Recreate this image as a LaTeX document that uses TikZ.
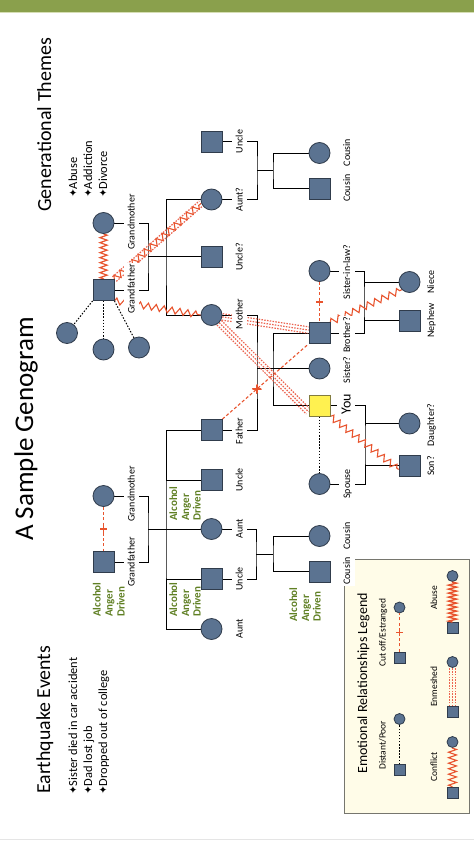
\documentclass[tikz,border=0pt]{standalone}
\usepackage{fontspec}
\setmainfont{Carlito}
\newfontfamily\symfont{DejaVu Sans}
\usetikzlibrary{decorations.pathmorphing,calc}
\pgfdeclarelayer{paper}
\pgfdeclarelayer{tree}
\pgfdeclarelayer{rel}
\pgfsetlayers{paper,tree,rel,main}
\definecolor{nodefill}{RGB}{91,115,145}
\definecolor{nodedraw}{RGB}{48,60,76}
\definecolor{relred}{RGB}{232,84,46}
\definecolor{enmred}{RGB}{236,100,80}
\definecolor{bargreen}{RGB}{138,160,76}
\definecolor{barlight}{RGB}{214,222,180}
\definecolor{txtgreen}{RGB}{96,128,36}
\definecolor{youyellow}{RGB}{255,241,80}
\definecolor{youdraw}{RGB}{130,124,64}
\definecolor{legendfill}{RGB}{255,252,232}
\definecolor{legenddraw}{RGB}{118,118,110}
\newcommand{\myfs}[1]{\fontsize{#1}{#1}\selectfont}
\newcommand{\bul}{{\symfont\myfs{10.5}\raisebox{0.2pt}{✦}}}
\newcommand{\enmesh}[3][3.2pt]{%
  \draw[enm] ($(#2)!#1!90:(#3)$) -- ($(#3)!#1!-90:(#2)$);
  \draw[enm] (#2) -- (#3);
  \draw[enm] ($(#2)!#1!-90:(#3)$) -- ($(#3)!#1!90:(#2)$);}
\begin{document}
\begin{tikzpicture}[x=1pt,y=-1pt,
  person/.style={draw=nodedraw,fill=nodefill,line width=0.8pt,inner sep=0pt,minimum size=21pt},
  male/.style={person,rectangle},
  female/.style={person,circle},
  youbox/.style={person,rectangle,fill=youyellow,draw=youdraw},
  lmale/.style={male,minimum size=11pt},
  lfemale/.style={female,minimum size=11pt},
  tree/.style={black,line width=0.9pt},
  lab/.style={rotate=90,fill=white,inner xsep=1pt,inner ysep=4pt,text height=6.8pt,text depth=0.5pt,font=\myfs{10}},
  txt/.style={rotate=90,inner sep=0pt,anchor=base west},
  grtxt/.style={txt,text=txtgreen,font=\bfseries\myfs{11}},
  conflict/.style={relred,line width=1.1pt,decorate,decoration={zigzag,segment length=8pt,amplitude=3.2pt}},
  abuse/.style={relred,line width=1.2pt,decorate,decoration={zigzag,segment length=5pt,amplitude=3.5pt}},
  legconf/.style={relred,line width=1.1pt,decorate,decoration={zigzag,segment length=5.5pt,amplitude=4pt}},
  legabuse/.style={relred,line width=1.4pt,decorate,decoration={zigzag,segment length=4pt,amplitude=4pt}},
  enm/.style={enmred,line width=1.2pt,dash pattern=on 1.5pt off 1.3pt},
  cutoff/.style={relred,line width=1.1pt,dash pattern=on 3pt off 2.2pt},
  cutmark/.style={sloped,inner sep=0pt,minimum size=7pt,
    path picture={\draw[relred,solid,line width=1.8pt] (path picture bounding box.north) -- (path picture bounding box.south);
                  \draw[relred,solid,line width=1.1pt] (path picture bounding box.west) -- (path picture bounding box.east);}},
  distant/.style={black,line width=1pt,dash pattern=on 1.5pt off 1.6pt}
]
\useasboundingbox (0,0) rectangle (474,842);
\begin{pgfonlayer}{paper}
\fill[white] (0,0) rectangle (474,842);
\end{pgfonlayer}
\fill[bargreen] (0,0) rectangle (474,12);
\fill[barlight] (0,12) rectangle (474,13);
\draw[black!10,line width=0.8pt] (0,839.5) -- (474,839.5);

% ---------- headings ----------
\node[txt,font=\myfs{27}] (title) at (33,541) {A Sample Genogram};
\node[txt,font=\myfs{20}] (gth) at (51,212) {Generational Themes};
\node[txt,font=\myfs{12.4}] (gt1) at (77,198) {\bul Abuse};
\node[txt,font=\myfs{12.4}] (gt2) at (92,198) {\bul Addiction};
\node[txt,font=\myfs{12.4}] (gt3) at (107,198) {\bul Divorce};
\node[txt,font=\myfs{19.8}] (eqh) at (50,794) {Earthquake Events};
\node[txt,font=\myfs{12.4}] (eq1) at (77,795) {\bul Sister died in car accident};
\node[txt,font=\myfs{12.4}] (eq2) at (92,795) {\bul Dad lost job};
\node[txt,font=\myfs{12.4}] (eq3) at (107,795) {\bul Dropped out of college};

% ---------- persons ----------
\node[female] (MGM) at (103.5,223) {};
\node[male] (MGF) at (103.5,290) {};
\node[female] (H1) at (67,333) {};
\node[female] (H2) at (103.5,349.5) {};
\node[female] (H3) at (139,347.5) {};
\node[male] (UncT) at (211.5,141.5) {};
\node[female] (AuntQ) at (211.5,199.5) {};
\node[male] (UncQ) at (211.5,256.5) {};
\node[female] (Mo) at (211.5,315) {};
\node[female] (CouA) at (319.5,153) {};
\node[male] (CouB) at (319.5,188.5) {};
\node[female] (PGM) at (103.5,496) {};
\node[male] (PGF) at (103.5,562) {};
\node[male] (Fa) at (211.5,430) {};
\node[male] (Unc1) at (211.5,480) {};
\node[female] (Aunt1) at (211.5,529) {};
\node[male] (Unc2) at (211.5,579) {};
\node[female] (Aunt2) at (211.5,629) {};
\node[female] (CouC) at (319.5,536) {};
\node[male] (CouD) at (319.5,571.5) {};
\node[female] (SIL) at (319.5,271) {};
\node[male] (Bro) at (319.5,333) {};
\node[female] (Sis) at (319.5,368.5) {};
\node[youbox] (You) at (319.5,405.5) {};
\node[female] (Sp) at (319.5,484) {};
\node[female] (Niece) at (409.5,282) {};
\node[male] (Neph) at (409.5,320.5) {};
\node[female] (Dau) at (409.5,423.5) {};
\node[male] (Son) at (409.5,465.5) {};

% ---------- family lines ----------
\begin{pgfonlayer}{tree}
\coordinate (mgm) at (148,256.5);
\coordinate (msib) at (166,256.5);
\draw[tree] (MGM) -| (mgm) |- (MGF);
\draw[tree] (mgm) -- (UncQ);
\draw[tree] (AuntQ) -| (msib) |- (Mo);
\coordinate (utm) at (257,170.5);
\coordinate (cs1) at (273,170.5);
\draw[tree] (UncT) -| (utm) |- (AuntQ);
\draw[tree] (utm) -- (cs1);
\draw[tree] (CouA) -| (cs1) |- (CouB);
\coordinate (pgm) at (148,529);
\coordinate (psib) at (166,529);
\draw[tree] (PGM) -| (pgm) |- (PGF);
\draw[tree] (pgm) -- (Aunt1);
\draw[tree] (Fa) -| (psib) |- (Aunt2);
\draw[tree] (psib |- Unc1) -- (Unc1);
\draw[tree] (psib |- Unc2) -- (Unc2);
\coordinate (mf) at (257,368.5);
\coordinate (ysib) at (273,368.5);
\draw[tree] (Mo) -| (mf) |- (Fa);
\draw[tree] (mf) -- (Sis);
\draw[tree] (Bro) -| (ysib) |- (You);
\coordinate (ac) at (256,554);
\coordinate (cs2) at (273,554);
\draw[tree] (Aunt1) -| (ac) |- (Unc2);
\draw[tree] (ac) -- (cs2);
\draw[tree] (CouC) -| (cs2) |- (CouD);
\coordinate (bs) at (364,301.5);
\draw[tree] (SIL) -| (bs) |- (Bro);
\draw[tree] (bs |- Niece) -- (Niece);
\draw[tree] (bs |- Neph) -- (Neph);
\coordinate (ys) at (365,445);
\draw[tree] (You) -| (ys) |- (Sp);
\draw[tree] (ys |- Dau) -- (Dau);
\draw[tree] (ys |- Son) -- (Son);
\draw[distant] (MGF.south west) -- (H1);
\draw[distant] (MGF) -- (H2);
\draw[distant] (MGF.south east) -- (H3);
\draw[distant] (You) -- (Sp);
\end{pgfonlayer}

% ---------- emotional relationships ----------
\begin{pgfonlayer}{rel}
\draw[abuse] (MGM) -- (MGF);
\draw[enm] ($(MGF.north east)!3pt!90:(AuntQ.200)$) -- ($(AuntQ.200)!3pt!-90:(MGF.north east)$);
\draw[enm] ($(MGF.north east)!3pt!-90:(AuntQ.200)$) -- ($(AuntQ.200)!3pt!90:(MGF.north east)$);
\draw[conflict] (MGF.north east) -- (AuntQ.200);
\draw[conflict] (MGF.south east) -- (Mo.west);
\enmesh{Mo.350}{Bro.165}
\enmesh{Mo.south east}{You.210}
\draw[cutoff] (SIL) -- node[cutmark] (cm1) {} (Bro);
\draw[cutoff] (Fa.north east) -- node[cutmark,pos=0.4] (cm2) {} (Bro.south west);
\draw[cutoff] (PGM) -- node[cutmark] (cm3) {} (PGF);
\draw[conflict] (Bro.north east) -- (Niece.south west);
\draw[conflict] (You.south east) -- (Son.200);
\end{pgfonlayer}

% ---------- legend box ----------
\draw[legenddraw,fill=legendfill,line width=1pt] (344,559) rectangle (469,813);

% ---------- name labels ----------
\node[lab] (t1) at (131.5,222) {Grandmother};
\node[lab] (t2) at (131.5,289) {Grandfather};
\node[lab] (t3) at (131.5,494) {Grandmother};
\node[lab] (t4) at (131.5,562) {Grandfather};
\node[lab] (t5) at (239.5,141.5) {Uncle};
\node[lab] (t6) at (239.5,199.5) {Aunt?};
\node[lab] (t7) at (239.5,257) {Uncle?};
\node[lab] (t8) at (239.5,314) {Mother};
\node[lab] (t9) at (239.5,431) {Father};
\node[lab] (t10) at (239.5,480) {Uncle};
\node[lab] (t11) at (239.5,529) {Aunt};
\node[lab] (t12) at (239.5,579) {Uncle};
\node[lab] (t13) at (239.5,629) {Aunt};
\node[lab] (t14) at (347,152.5) {Cousin};
\node[lab] (t15) at (347,188) {Cousin};
\node[lab] (t16) at (347,272) {Sister-in-law?};
\node[lab] (t17) at (347,335) {Brother?};
\node[lab] (t18) at (347,370) {Sister?};
\node[lab,font=\myfs{14},text height=9.5pt] (t19) at (346,404) {You};
\node[lab] (t20) at (347,484) {Spouse};
\node[lab] (t21) at (347,536) {Cousin};
\node[lab] (t22) at (347,571) {Cousin};
\node[lab] (t23) at (431,282) {Niece};
\node[lab] (t24) at (431,320.5) {Nephew};
\node[lab] (t25) at (431,425) {Daughter?};
\node[lab] (t26) at (431,466) {Son?};

% ---------- green notes ----------
\node[grtxt] (g1a) at (100.5,617) {Alcohol};
\node[grtxt] (g1b) at (112.5,617) {Anger};
\node[grtxt] (g1c) at (124.5,617) {Driven};
\node[grtxt] (g2a) at (177,617) {Alcohol};
\node[grtxt] (g2b) at (189,617) {Anger};
\node[grtxt] (g2c) at (200.5,617) {Driven};
\node[grtxt] (g3a) at (177,521) {Alcohol};
\node[grtxt] (g3b) at (189,521) {Anger};
\node[grtxt] (g3c) at (200.5,521) {Driven};
\node[grtxt] (g4a) at (297,622) {Alcohol};
\node[grtxt] (g4b) at (309,622) {Anger};
\node[grtxt] (g4c) at (320.5,622) {Driven};

% ---------- legend ----------
\node[txt,font=\myfs{14}] (lt) at (367,774) {Emotional Relationships Legend};
\node[txt,font=\myfs{9.5}] (ll1) at (385.5,770) {Distant/Poor};
\node[txt,font=\myfs{9.5}] (ll2) at (385.5,667) {Cut off/Estranged};
\node[txt,font=\myfs{9.5}] (ll3) at (437,782) {Conflict};
\node[txt,font=\myfs{9.5}] (ll4) at (437,707) {Enmeshed};
\node[txt,font=\myfs{9.5}] (ll5) at (437,610) {Abuse};
\node[lmale] (L1s) at (399.5,770) {};
\node[lfemale] (L1c) at (399.5,719) {};
\draw[distant] (L1s) -- (L1c);
\node[lmale] (L2s) at (399.5,657.5) {};
\node[lfemale] (L2c) at (399.5,607.5) {};
\draw[cutoff] (L2s) -- node[cutmark] (lcm) {} (L2c);
\node[lmale] (L3s) at (452.5,792.5) {};
\node[lfemale] (L3c) at (452.5,742) {};
\draw[legconf] (L3s) -- (L3c);
\node[lmale] (L4s) at (452.5,712) {};
\node[lfemale] (L4c) at (452.5,662) {};
\enmesh[2.8pt]{L4s.north}{L4c.south}
\node[lmale] (L5s) at (452.5,628) {};
\node[lfemale] (L5c) at (452.5,576) {};
\draw[legabuse] (L5s) -- (L5c);
\end{tikzpicture}
\end{document}
